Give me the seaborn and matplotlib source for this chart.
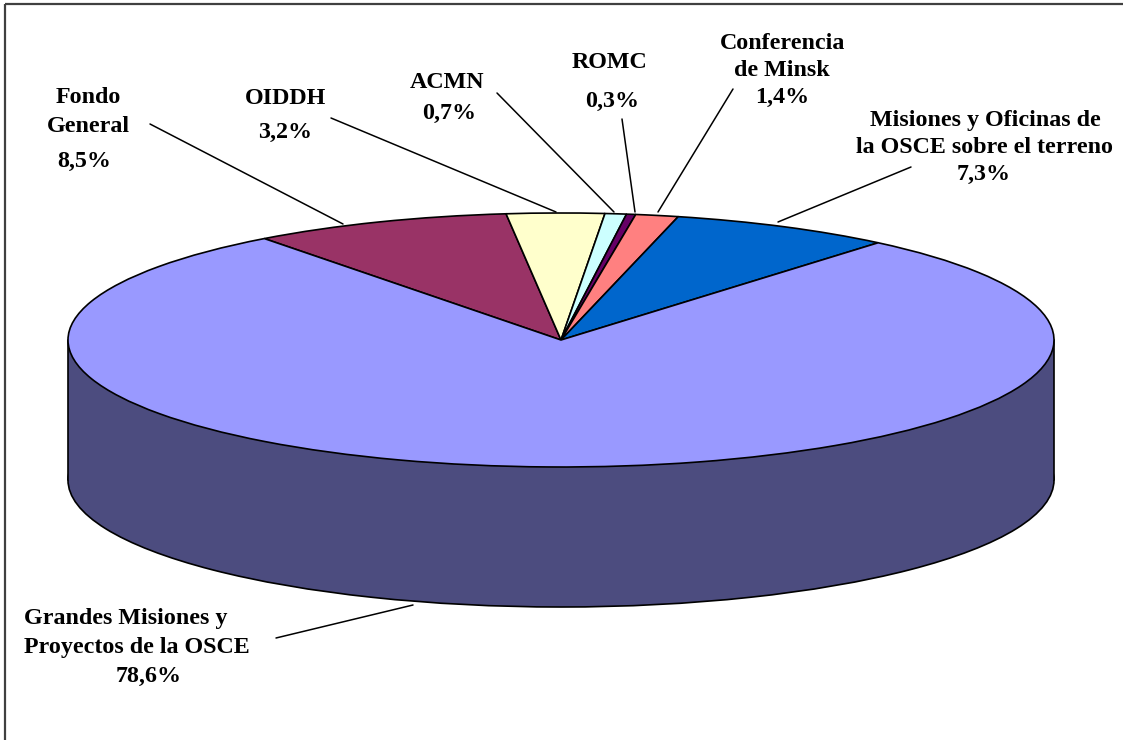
import matplotlib
matplotlib.use("Agg")
import matplotlib.pyplot as plt
import seaborn as sns

# ---- data ----
categories = ["Fondo General", "OIDDH", "ACMN", "ROMC", "Conferencia de Minsk",
              "Misiones y Oficinas de la OSCE sobre el terreno",
              "Grandes Misiones y Proyectos de la OSCE"]
values = [8.5, 3.2, 0.7, 0.3, 1.4, 7.3, 78.6]
slice_colors = ["#993366", "#FFFFCC", "#CCFFFF", "#660066", "#FF8080", "#0066CC", "#9999FF"]
side_color = "#4C4C7F"

# label lines per category (name lines)
label_lines = [["Fondo", "General"], ["OIDDH"], ["ACMN"], ["ROMC"],
               ["Conferencia", "de Minsk"],
               ["Misiones y Oficinas de", "la OSCE sobre el terreno"],
               ["Grandes Misiones y", "Proyectos de la OSCE"]]

sns.set_theme(style="white")
plt.rcParams['font.family'] = ['Liberation Serif', 'DejaVu Serif']

W, H = 1123, 740
fig = plt.figure(figsize=(W / 100, H / 100), dpi=100)
fig.patch.set_facecolor("white")

# ellipse geometry in pixels
cx, cy, a, b, depth = 561, 340, 493, 127, 140
d = depth / b
start = 127
elw = 1.2

ax = fig.add_axes([0, 0, 1, 1])
# side of the 3D pie: bottom ellipse + band between the two ellipses
ax.pie([sum(values)], colors=[side_color], startangle=start, counterclock=False,
       center=(0, -d), wedgeprops=dict(edgecolor="black", linewidth=elw, zorder=1))
ax.fill_between([-1, 1], -d, 0, color=side_color, lw=0, zorder=2)
ax.plot([-1, -1], [-d, 0], color="black", lw=elw, zorder=3)
ax.plot([1, 1], [-d, 0], color="black", lw=elw, zorder=3)
# top face
ax.pie(values, colors=slice_colors, startangle=start, counterclock=False,
       center=(0, 0), wedgeprops=dict(edgecolor="black", linewidth=elw, zorder=4))
ax.set_aspect("auto")
ax.set_xlim(-cx / a, (W - cx) / a)
ax.set_ylim((cy - H) / b, cy / b)
ax.axis("off")

# overlay in pixel coordinates for labels, leader lines and frame
ov = fig.add_axes([0, 0, 1, 1])
ov.set_xlim(0, W)
ov.set_ylim(H, 0)
ov.axis("off")
ov.patch.set_alpha(0)

# layout: (center x, baseline y) for each name line, then for percentage
name_pos = [[(88, 103), (88, 132)], [(285, 104)], [(447, 88)], [(610, 68)],
            [(783, 49), (782, 76)], [(985, 126), (984, 153)],
            [(126, 624), (137, 653)]]
pct_pos = [(84, 167), (285, 138), (449, 119), (612, 107), (782, 103), (984, 180), (149, 682)]
leaders = [((150, 124), (343, 224)), ((331, 118), (556, 212)), ((497, 93), (614, 212)),
           ((622, 119), (635, 212)), ((733, 89), (658, 212)), ((911, 167), (778, 222)),
           ((276, 638), (413, 605))]

fs = 17.3
for lines, npos, ppos, v, ld in zip(label_lines, name_pos, pct_pos, values, leaders):
    for txt, (x, y) in zip(lines, npos):
        ov.text(x, y, txt, ha="center", va="baseline", fontsize=fs, fontweight="bold", color="black")
    pct = f"{v:.1f}%".replace(".", ",")
    ov.text(ppos[0], ppos[1], pct, ha="center", va="baseline", fontsize=fs, fontweight="bold", color="black")
    (x0, y0), (x1, y1) = ld
    ov.plot([x0, x1], [y0, y1], color="black", lw=1.1)

# chart-area frame (top and left edges visible)
ov.plot([4.5, W], [3.5, 3.5], color="#404040", lw=1.6, solid_capstyle="butt")
ov.plot([4.5, 4.5], [3.5, H], color="#404040", lw=1.6, solid_capstyle="butt")

fig.savefig("out.png", dpi=100, facecolor="white")
